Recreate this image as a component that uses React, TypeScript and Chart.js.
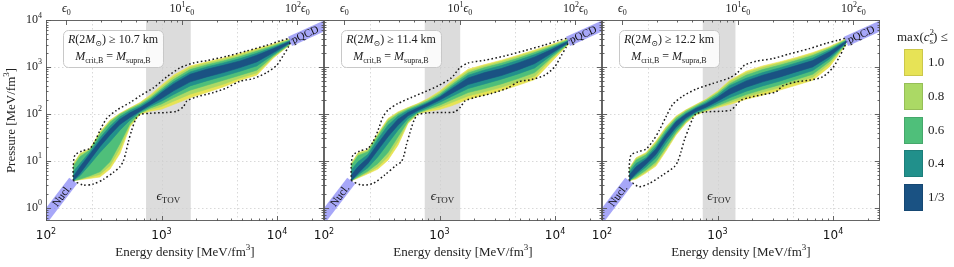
import React, { useEffect, useRef } from 'react';
import { Chart, registerables } from 'chart.js';
Chart.register(...registerables);

// ---------------- layout constants ----------------
const W = 954;
const H = 267;
const PANEL_LEFT = [46, 324, 602];
const PANEL_W = 278;
const PLOT_TOP = 20;
const PLOT_BOTTOM = 221;

// ---------------- axes ----------------
const X_MIN = 100;
const X_MAX = 25500;
const Y_MIN = 0.52;
const Y_MAX = 10000;
const EPS0 = 150; // MeV/fm^3
const GRID_X = [250, 1000, 4500, 10000];
const GRID_Y = [1, 10, 100, 1000];
const X_TICK_LABELS = [100, 1000, 10000];
const Y_TICK_LABELS = [1, 10, 100, 1000, 10000];
const TOP_TICK_POWERS = [0, 1, 2];

// ---------------- data ----------------
const ENERGY = [172, 197, 240, 293, 358, 437, 533, 651, 795, 1000, 1270, 1770, 2460, 3430, 4790, 6670, 9300, 13000];

const LEVEL_LABELS = ['1.0', '0.8', '0.6', '0.4', '1/3'];
const LEVEL_COLORS = ['#e7e356', '#abd965', '#4fbf7a', '#21908b', '#1a5283'];
const RADIUS_LABELS = ['10.7', '11.4', '12.2'];

// Panel 1: R(2Msun) >= 10.7 km
const P1_UP_10 = [8.49, 14.3, 18.0, 41.4, 73.3, 103, 134, 174, 250, 407, 665, 1050, 1278, 1554, 1922, 2455, 3086, 4007];
const P1_UP_08 = [8.09, 13.6, 17.4, 38.8, 69.8, 100, 130, 166, 234, 375, 603, 968, 1197, 1456, 1800, 2300, 2939, 3879];
const P1_UP_06 = [7.45, 12.2, 16.9, 36.3, 65.4, 96.8, 126, 158, 215, 340, 538, 878, 1103, 1342, 1660, 2154, 2798, 3754];
const P1_UP_04 = [5.83, 8.78, 15.5, 30.9, 54.7, 86.3, 116, 146, 199, 309, 480, 783, 1000, 1216, 1504, 1954, 2620, 3634];
const P1_UP_33 = [4.57, 7.45, 13.9, 26.6, 47.2, 77.0, 105, 134, 183, 284, 435, 698, 892, 1085, 1342, 1771, 2455, 3517];
const P1_LO_33 = [3.75, 5.38, 10.3, 19.9, 35.2, 59.3, 83.6, 114, 155, 212, 309, 480, 613, 757, 968, 1278, 2018, 3294];
const P1_LO_04 = [3.75, 4.80, 8.36, 15.0, 25.4, 44.9, 73.3, 109, 143, 186, 258, 394, 504, 633, 809, 1050, 1830, 3188];
const P1_LO_06 = [3.75, 4.07, 4.80, 5.83, 9.52, 23.4, 62.3, 103, 132, 163, 219, 319, 407, 520, 665, 850, 1714, 3086];
const P1_LO_08 = [3.75, 4.01, 4.49, 5.12, 7.83, 18.3, 57.4, 102, 122, 143, 186, 262, 335, 428, 583, 745, 1633, 3036];
const P1_LO_10 = [3.75, 3.94, 4.21, 4.49, 6.65, 14.3, 52.9, 96.8, 114, 126, 158, 219, 284, 375, 520, 665, 1554, 2987];

// Panel 2: R(2Msun) >= 11.4 km
const P2_UP_10 = [8.78, 14.8, 17.1, 38.2, 79.6, 110, 136, 166, 212, 303, 495, 892, 1121, 1386, 1771, 2300, 2987, 4007];
const P2_UP_08 = [8.36, 14.1, 16.6, 35.8, 74.5, 105, 132, 161, 202, 284, 457, 822, 1050, 1299, 1660, 2154, 2844, 3879];
const P2_UP_06 = [7.83, 12.8, 15.5, 33.5, 68.7, 98.4, 126, 153, 189, 262, 414, 745, 968, 1197, 1529, 2018, 2707, 3754];
const P2_UP_04 = [6.33, 9.52, 13.6, 28.9, 57.4, 89.2, 118, 143, 177, 241, 375, 665, 864, 1068, 1386, 1830, 2537, 3634];
const P2_UP_33 = [4.95, 7.45, 11.6, 23.4, 44.9, 77.0, 107, 134, 169, 226, 340, 583, 757, 922, 1216, 1633, 2338, 3517];
const P2_LO_33 = [3.75, 5.38, 8.78, 16.9, 32.4, 57.4, 90.6, 118, 148, 195, 271, 421, 529, 654, 864, 1177, 1954, 3294];
const P2_LO_04 = [3.75, 4.95, 7.10, 12.2, 23.4, 44.9, 79.6, 110, 136, 174, 234, 346, 435, 547, 710, 952, 1771, 3188];
const P2_LO_06 = [3.75, 4.57, 6.03, 8.78, 15.0, 32.4, 69.8, 105, 126, 153, 199, 284, 346, 435, 565, 757, 1580, 3086];
const P2_LO_08 = [3.75, 4.42, 5.65, 7.45, 12.2, 26.2, 65.4, 102, 120, 139, 174, 241, 294, 369, 480, 633, 1480, 3036];
const P2_LO_10 = [3.75, 4.28, 5.29, 6.65, 10.3, 21.5, 62.3, 100, 112, 124, 148, 205, 250, 314, 407, 538, 1278, 2987];

// Panel 3: R(2Msun) >= 12.2 km
const P3_UP_10 = [6.87, 11.6, 14.8, 26.2, 52.9, 89.2, 122, 158, 205, 303, 512, 809, 1050, 1278, 1580, 2018, 2707, 4007];
const P3_UP_08 = [6.65, 11.0, 14.1, 24.5, 49.5, 84.9, 118, 153, 199, 289, 480, 745, 968, 1197, 1480, 1891, 2578, 3879];
const P3_UP_06 = [6.33, 10.3, 13.2, 22.6, 45.7, 79.6, 112, 146, 189, 271, 435, 665, 878, 1085, 1364, 1742, 2455, 3754];
const P3_UP_04 = [5.65, 8.78, 11.6, 19.9, 40.1, 72.1, 103, 136, 174, 245, 398, 574, 757, 952, 1216, 1554, 2262, 3634];
const P3_UP_33 = [4.95, 7.45, 10.7, 17.7, 36.3, 67.6, 98.4, 130, 163, 226, 340, 504, 665, 836, 1068, 1364, 2085, 3517];
const P3_LO_33 = [3.75, 5.38, 8.36, 13.6, 28.4, 52.0, 82.2, 112, 139, 186, 258, 369, 480, 603, 783, 1000, 1660, 3294];
const P3_LO_04 = [3.75, 4.95, 7.33, 11.6, 23.8, 45.7, 75.8, 107, 130, 166, 219, 303, 394, 495, 644, 836, 1480, 3188];
const P3_LO_06 = [3.75, 4.49, 6.33, 9.52, 19.5, 40.1, 69.8, 102, 122, 150, 189, 258, 329, 414, 538, 698, 1299, 3086];
const P3_LO_08 = [3.75, 4.28, 5.83, 8.49, 17.7, 37.5, 66.5, 98.4, 118, 143, 171, 230, 289, 363, 472, 603, 1158, 3036];
const P3_LO_10 = [3.75, 4.07, 5.47, 7.70, 16.1, 35.2, 63.3, 95.2, 114, 136, 158, 205, 250, 319, 407, 520, 1000, 2987];

// Dotted envelopes (all causal EoSs)
const E1_UP_X = [172, 172, 178, 204, 240, 266, 294, 335, 409, 534, 652, 850, 1109, 1446, 1887, 2460, 3666, 5463, 8137, 10617, 12960];
const E1_UP_P = [3.75, 7.45, 13.2, 16.1, 18.3, 26.2, 44.9, 79.6, 120, 174, 242, 357, 613, 952, 1216, 1364, 1687, 2190, 2890, 3574, 4140];
const E1_LO_X = [172, 210, 257, 314, 383, 437, 467, 493, 516, 552, 602, 652, 795, 1109, 1353, 1545, 1651, 2016, 2811, 3666, 4783, 6240, 8137, 9933, 11346, 12536, 13397];
const E1_LO_P = [3.75, 3.04, 3.19, 4.01, 5.65, 7.45, 9.84, 15.5, 25.4, 44.9, 79.6, 96.8, 103, 107, 114, 141, 186, 230, 284, 357, 495, 565, 757, 1085, 1771, 2665, 3879];

const E2_UP_X = [172, 172, 178, 204, 240, 266, 294, 324, 358, 437, 570, 744, 970, 1266, 1495, 1766, 2460, 3666, 5463, 8137, 10617, 12960];
const E2_UP_P = [3.75, 7.45, 13.2, 16.1, 18.3, 25.4, 44.9, 86.3, 120, 166, 223, 294, 394, 583, 952, 1216, 1386, 1714, 2226, 2939, 3634, 4140];
const E2_LO_X = [172, 210, 266, 335, 423, 467, 493, 516, 552, 602, 652, 795, 1109, 1353, 1525, 1651, 2016, 2811, 3918, 4783, 6240, 8137, 9933, 11346, 12536, 13397];
const E2_LO_P = [3.75, 3.04, 3.29, 4.95, 8.09, 9.52, 13.2, 21.5, 38.2, 73.3, 96.8, 105, 107, 110, 141, 186, 223, 271, 357, 480, 538, 665, 1000, 1771, 2665, 3879];

const E3_UP_X = [172, 172, 178, 204, 240, 275, 314, 358, 409, 499, 652, 908, 1266, 1495, 1708, 2154, 3004, 4187, 6240, 8699, 10975, 12960];
const E3_UP_P = [3.75, 7.45, 13.2, 15.5, 17.7, 26.2, 44.9, 86.3, 158, 238, 335, 442, 583, 757, 1085, 1320, 1504, 1891, 2455, 3188, 3690, 4140];
const E3_LO_X = [172, 210, 257, 335, 423, 452, 483, 516, 563, 610, 652, 795, 1109, 1309, 1446, 1598, 1887, 2460, 3210, 3666, 4783, 6240, 8137, 9933, 11346, 12536, 13397];
const E3_LO_P = [3.75, 2.80, 3.29, 4.95, 7.45, 9.52, 15.5, 27.5, 48.7, 79.6, 100, 110, 114, 120, 153, 195, 223, 258, 294, 394, 480, 520, 613, 952, 1633, 2665, 3879];

// TOV energy-density ranges (grey bands)
const TOV_1 = [735, 1790];
const TOV_2 = [745, 1510];
const TOV_3 = [745, 1430];

// Nuclear and pQCD limits
const NUCL_E = [80, 172];
const NUCL_P = [0.32, 3.75];
const PQCD_E = [12960, 32000];
const PQCD_P = [3500, 9600];
const NUCL_LABEL_E = 137;
const PQCD_LABEL_E = 17500;
const TOV_LABEL_P = 1.75;

const PANELS = [
  { radius: RADIUS_LABELS[0], up: [P1_UP_10, P1_UP_08, P1_UP_06, P1_UP_04, P1_UP_33], lo: [P1_LO_10, P1_LO_08, P1_LO_06, P1_LO_04, P1_LO_33], eux: E1_UP_X, eup: E1_UP_P, elx: E1_LO_X, elp: E1_LO_P, tov: TOV_1 },
  { radius: RADIUS_LABELS[1], up: [P2_UP_10, P2_UP_08, P2_UP_06, P2_UP_04, P2_UP_33], lo: [P2_LO_10, P2_LO_08, P2_LO_06, P2_LO_04, P2_LO_33], eux: E2_UP_X, eup: E2_UP_P, elx: E2_LO_X, elp: E2_LO_P, tov: TOV_2 },
  { radius: RADIUS_LABELS[2], up: [P3_UP_10, P3_UP_08, P3_UP_06, P3_UP_04, P3_UP_33], lo: [P3_LO_10, P3_LO_08, P3_LO_06, P3_LO_04, P3_LO_33], eux: E3_UP_X, eup: E3_UP_P, elx: E3_LO_X, elp: E3_LO_P, tov: TOV_3 },
];

// ---------------- text helpers ----------------
const SERIF = "'Liberation Serif', 'DejaVu Serif', serif";
const SANS = "'DejaVu Sans', sans-serif";
type Seg = { t: string; it?: boolean; sub?: boolean; sup?: boolean; noAdv?: boolean };

function drawRich(ctx: CanvasRenderingContext2D, segs: Seg[], x: number, y: number, size: number, align: 'left' | 'center' | 'right', family = SERIF, color = '#222') {
  const items = segs.map((s) => {
    const fs = s.sub || s.sup ? Math.round(size * 0.7) : size;
    const font = `${s.it ? 'italic ' : ''}${fs}px ${family}`;
    ctx.font = font;
    const w = ctx.measureText(s.t).width;
    const dy = s.sub ? size * 0.3 : s.sup ? -size * 0.38 : 0;
    return { s, font, w, dy };
  });
  const total = items.reduce((acc, it) => acc + (it.s.noAdv ? 0 : it.w), 0);
  let cx = align === 'left' ? x : align === 'center' ? x - total / 2 : x - total;
  ctx.fillStyle = color;
  ctx.textAlign = 'left';
  ctx.textBaseline = 'middle';
  for (const it of items) {
    ctx.font = it.font;
    ctx.fillText(it.s.t, cx, y + it.dy);
    if (!it.s.noAdv) cx += it.w;
  }
}

function powLabel(v: number): Seg[] {
  return [{ t: '10' }, { t: String(Math.round(Math.log10(v))), sup: true }];
}

function makePlugin(pi: number) {
  const p = PANELS[pi];
  return {
    id: 'panelDecor' + pi,
    beforeDatasetsDraw(chart: any) {
      const { ctx, chartArea: a, scales } = chart;
      const xs = scales.x, ys = scales.y;
      ctx.save();
      // TOV band
      const x0 = xs.getPixelForValue(p.tov[0]);
      const x1 = xs.getPixelForValue(p.tov[1]);
      ctx.fillStyle = '#dcdcdc';
      ctx.fillRect(x0, a.top, x1 - x0, a.bottom - a.top);
      // grid
      ctx.strokeStyle = '#cfcfcf';
      ctx.lineWidth = 0.8;
      ctx.setLineDash([1.5, 2.5]);
      for (const v of GRID_X) {
        const px = Math.round(xs.getPixelForValue(v)) + 0.5;
        ctx.beginPath(); ctx.moveTo(px, a.top); ctx.lineTo(px, a.bottom); ctx.stroke();
      }
      for (const v of GRID_Y) {
        const py = Math.round(ys.getPixelForValue(v)) + 0.5;
        ctx.beginPath(); ctx.moveTo(a.left, py); ctx.lineTo(a.right, py); ctx.stroke();
      }
      ctx.setLineDash([]);
      // eps_TOV label
      const cxT = xs.getPixelForValue(Math.sqrt(p.tov[0] * p.tov[1]));
      drawRich(ctx, [{ t: 'ϵ', it: true }, { t: 'TOV', sub: true }], cxT, ys.getPixelForValue(TOV_LABEL_P), 13, 'center', SERIF, '#222');
      ctx.restore();
    },
    afterDatasetsDraw(chart: any) {
      const { ctx, chartArea: a, scales } = chart;
      const xs = scales.x, ys = scales.y;
      ctx.save();
      // labels along the limit bands, clipped to the plot
      ctx.save();
      ctx.beginPath(); ctx.rect(a.left, a.top, a.right - a.left, a.bottom - a.top); ctx.clip();
      const bandLabel = (E: number[], P: number[], atE: number, text: string) => {
        const ax = xs.getPixelForValue(E[0]), ay = ys.getPixelForValue(P[0]);
        const bx = xs.getPixelForValue(E[1]), by = ys.getPixelForValue(P[1]);
        const px = xs.getPixelForValue(atE);
        const t = (px - ax) / (bx - ax);
        const py = ay + t * (by - ay);
        ctx.save();
        ctx.translate(px, py);
        ctx.rotate(Math.atan2(by - ay, bx - ax));
        ctx.font = `11px ${SERIF}`;
        ctx.fillStyle = '#111';
        ctx.textAlign = 'center';
        ctx.textBaseline = 'middle';
        ctx.fillText(text, 0, 0.5);
        ctx.restore();
      };
      bandLabel(NUCL_E, NUCL_P, NUCL_LABEL_E, 'Nucl.');
      bandLabel(PQCD_E, PQCD_P, PQCD_LABEL_E, 'pQCD');
      ctx.restore();

      // annotation box
      const bx = a.left + 17, by = 30, bw = 100, bh = 37;
      ctx.beginPath();
      ctx.roundRect(bx + 0.5, by + 0.5, bw, bh, 5);
      ctx.fillStyle = 'rgba(255,255,255,0.85)';
      ctx.fill();
      ctx.strokeStyle = '#c8c8c8';
      ctx.lineWidth = 1;
      ctx.stroke();
      drawRich(ctx, [{ t: 'R', it: true }, { t: '(2' }, { t: 'M', it: true }, { t: '⊙', sub: true }, { t: ') ≥ ' + p.radius + ' km' }], bx + bw / 2, by + 10, 12, 'center');
      drawRich(ctx, [{ t: 'M', it: true }, { t: 'crit,B', sub: true }, { t: ' = ' }, { t: 'M', it: true }, { t: 'supra,B', sub: true }], bx + bw / 2, by + 27, 12, 'center');

      // frame
      ctx.strokeStyle = '#555';
      ctx.lineWidth = 0.9;
      ctx.strokeRect(a.left + 0.5, a.top + 0.5, a.right - a.left - 1, a.bottom - a.top - 1);

      // inward ticks on all four sides
      ctx.beginPath();
      for (let n = 2; n <= 4; n++) {
        for (let k = 1; k <= 9; k++) {
          const v = k * Math.pow(10, n);
          if (v < X_MIN || v > X_MAX) continue;
          const px = Math.round(xs.getPixelForValue(v)) + 0.5;
          const len = k === 1 ? 5 : 2.5;
          ctx.moveTo(px, a.bottom); ctx.lineTo(px, a.bottom - len);
        }
      }
      for (const n of TOP_TICK_POWERS) {
        for (let k = 1; k <= 9; k++) {
          const v = k * Math.pow(10, n) * EPS0;
          if (v < X_MIN || v > X_MAX) continue;
          const px = Math.round(xs.getPixelForValue(v)) + 0.5;
          const len = k === 1 ? 5 : 2.5;
          ctx.moveTo(px, a.top); ctx.lineTo(px, a.top + len);
        }
      }
      for (let n = -1; n <= 4; n++) {
        for (let k = 1; k <= 9; k++) {
          const v = k * Math.pow(10, n);
          if (v < Y_MIN || v > Y_MAX) continue;
          const py = Math.round(ys.getPixelForValue(v)) + 0.5;
          const len = k === 1 ? 5 : 2.5;
          ctx.moveTo(a.left, py); ctx.lineTo(a.left + len, py);
          ctx.moveTo(a.right, py); ctx.lineTo(a.right - len, py);
        }
      }
      ctx.stroke();

      // bottom tick labels
      for (const v of X_TICK_LABELS) {
        drawRich(ctx, powLabel(v), xs.getPixelForValue(v), a.bottom + 15, 12, 'center', SANS, '#111');
      }
      // top tick labels (units of eps0)
      TOP_TICK_POWERS.forEach((n) => {
        const v = Math.pow(10, n) * EPS0;
        const segs: Seg[] = n === 0 ? [{ t: 'ϵ', it: true }, { t: '0', sub: true }] : [{ t: '10' }, { t: String(n), sup: true }, { t: 'ϵ', it: true }, { t: '0', sub: true }];
        drawRich(ctx, segs, xs.getPixelForValue(v), 9, 12, 'center', SERIF, '#222');
      });
      // x title
      drawRich(ctx, [{ t: 'Energy density [MeV/fm' }, { t: '3', sup: true }, { t: ']' }], (a.left + a.right) / 2, 253, 13, 'center');

      if (pi === 0) {
        for (const v of Y_TICK_LABELS) {
          drawRich(ctx, powLabel(v), a.left - 4, ys.getPixelForValue(v), 12, 'right', SERIF, '#222');
        }
        ctx.save();
        ctx.translate(12, (a.top + a.bottom) / 2);
        ctx.rotate(-Math.PI / 2);
        drawRich(ctx, [{ t: 'Pressure [MeV/fm' }, { t: '3', sup: true }, { t: ']' }], 0, 0, 13, 'center');
        ctx.restore();
      }

      if (pi === 2) {
        drawRich(ctx, [{ t: 'max(' }, { t: 'c', it: true }, { t: '2', sup: true, noAdv: true }, { t: 's', sub: true }, { t: ') ≤' }], 897, 38, 13, 'left');
        const ys0 = [49, 83, 117, 150, 184];
        LEVEL_LABELS.forEach((lab, i) => {
          ctx.fillStyle = LEVEL_COLORS[i];
          ctx.fillRect(904, ys0[i], 19, 27);
          ctx.strokeStyle = 'rgba(0,0,0,0.12)';
          ctx.lineWidth = 1;
          ctx.strokeRect(904.5, ys0[i] + 0.5, 18, 26);
          drawRich(ctx, [{ t: lab }], 928, ys0[i] + 14, 13, 'left');
        });
      }
      ctx.restore();
    },
  };
}

function buildDatasets(pi: number) {
  const p = PANELS[pi];
  const ds: any[] = [];
  LEVEL_COLORS.forEach((c, li) => {
    const ord = 60 - li * 10;
    ds.push({
      data: ENERGY.map((e, j) => ({ x: e, y: p.up[li][j] })),
      borderColor: c, backgroundColor: c, borderWidth: 0.6, fill: '+1', order: ord,
      pointRadius: 0, clip: 0, tension: 0,
    });
    ds.push({
      data: ENERGY.map((e, j) => ({ x: e, y: p.lo[li][j] })),
      borderColor: c, backgroundColor: c, borderWidth: 0.6, fill: false, order: ord,
      pointRadius: 0, clip: 0, tension: 0,
    });
  });
  const env = { borderColor: '#1a1a1a', borderWidth: 1.5, borderDash: [1.6, 2.4], fill: false, order: 5, pointRadius: 0, clip: 0, tension: 0.25 };
  ds.push({ ...env, data: p.eux.map((e, j) => ({ x: e, y: p.eup[j] })) });
  ds.push({ ...env, data: p.elx.map((e, j) => ({ x: e, y: p.elp[j] })) });
  const band = { borderColor: 'rgba(125,125,245,0.68)', borderWidth: 10, borderCapStyle: 'butt', fill: false, order: 1, pointRadius: 0, clip: 0 };
  ds.push({ ...band, data: NUCL_E.map((e, j) => ({ x: e, y: NUCL_P[j] })) });
  ds.push({ ...band, data: PQCD_E.map((e, j) => ({ x: e, y: PQCD_P[j] })) });
  return ds;
}

function Panel({ index }: { index: number }) {
  const ref = useRef<HTMLCanvasElement>(null);
  useEffect(() => {
    if (!ref.current) return;
    const left = PANEL_LEFT[index];
    const chart = new Chart(ref.current, {
      type: 'line',
      data: { datasets: buildDatasets(index) },
      options: {
        animation: false,
        responsive: false,
        devicePixelRatio: 1,
        events: [],
        layout: { padding: { left, right: W - (left + PANEL_W), top: PLOT_TOP, bottom: H - PLOT_BOTTOM } },
        scales: {
          x: { type: 'logarithmic', min: X_MIN, max: X_MAX, display: false },
          y: { type: 'logarithmic', min: Y_MIN, max: Y_MAX, display: false },
        },
        plugins: { legend: { display: false }, tooltip: { enabled: false } },
      },
      plugins: [makePlugin(index)],
    } as any);
    return () => chart.destroy();
  }, [index]);
  return <canvas ref={ref} width={W} height={H} style={{ position: 'absolute', left: 0, top: 0, width: W, height: H }} />;
}

export default function App() {
  return (
    <div style={{ position: 'fixed', left: 0, top: 0, width: W, height: H, background: '#fff' }}>
      <Panel index={0} />
      <Panel index={1} />
      <Panel index={2} />
    </div>
  );
}
